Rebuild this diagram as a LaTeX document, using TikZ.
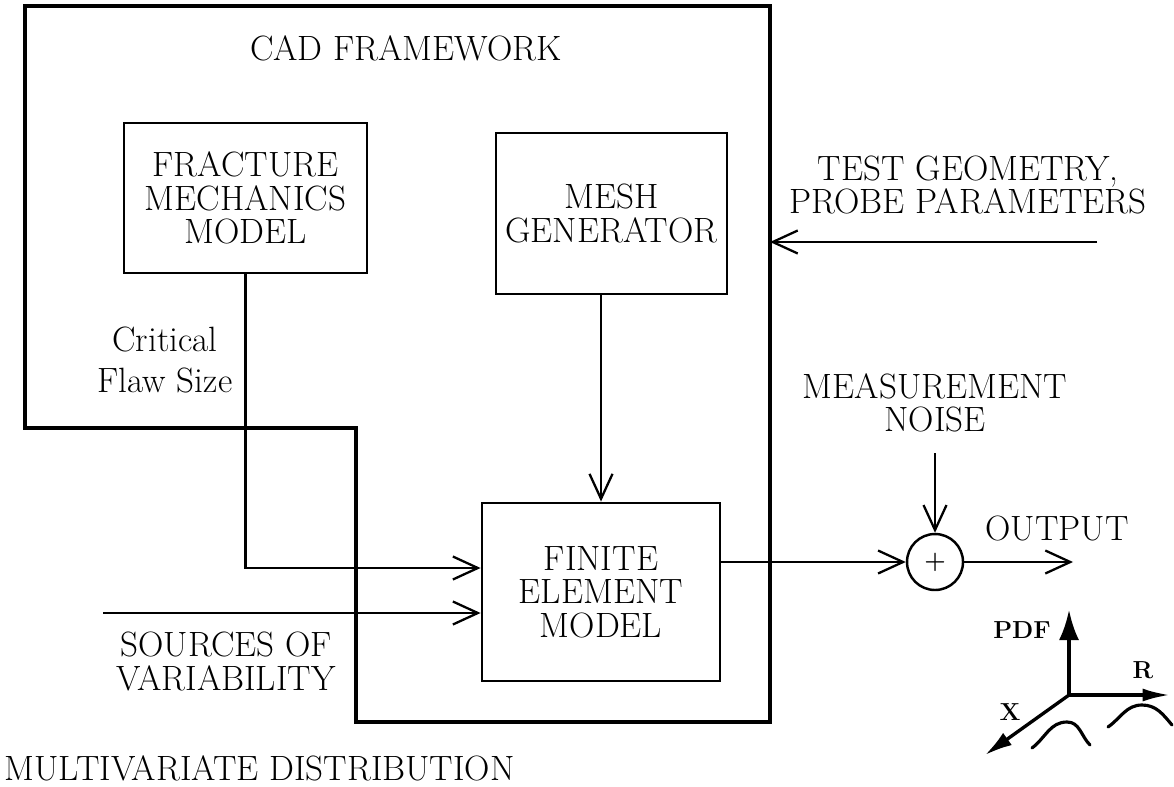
\documentclass[tikz,border=0pt]{standalone}
\usepackage{tikz}
\usetikzlibrary{positioning}
\usetikzlibrary{arrows.meta}
\tikzstyle{cadframe} = [line width=2.4pt, line join=miter]
\tikzstyle{block} = [rectangle, draw=black, line width=1.6pt, text centered, align=center]
\tikzstyle{txt} = [align=center]
\tikzstyle{arrow} = [line width=1.3pt, -{Straight Barb[length=0.5cm,width=0.46cm,line width=1.3pt]}]
\tikzstyle{pdfaxis} = [line width=1.9pt]
\tikzstyle{axlabel} = [font=\fontsize{14}{14}\selectfont\bfseries]
\tikzstyle{hump} = [line width=1.8pt, line cap=round]

\begin{document}
\begin{tikzpicture}[font=\fontsize{20}{19}\selectfont]
    \useasboundingbox (0,0) rectangle (23.48,15.72);

    % CAD framework outline
    \coordinate (fr-nw) at (0.5,15.6);
    \coordinate (fr-ne) at (15.4,15.6);
    \coordinate (fr-se) at (15.4,1.28);
    \coordinate (fr-s) at (7.12,1.28);
    \coordinate (fr-step) at (7.12,7.16);
    \coordinate (fr-sw) at (0.5,7.16);
    \draw [cadframe] (fr-nw) -- (fr-ne) -- (fr-se) -- (fr-s) -- (fr-step) -- (fr-sw) -- cycle;
    \node (cad) at (8.12,14.76) {CAD FRAMEWORK};

    % blocks
    \node (fracture) [block, minimum width=4.86cm, minimum height=3cm] at (4.91,11.76) {FRACTURE\\MECHANICS\\MODEL};
    \node (mesh) [block, minimum width=4.62cm, minimum height=3.22cm] at (12.23,11.45) {MESH\\GENERATOR};
    \node (fem) [block, minimum width=4.76cm, minimum height=3.56cm] at (12.02,3.88) {FINITE\\ELEMENT\\MODEL};
    \node (sum) [circle, draw=black, line width=1.4pt, minimum size=1.12cm, inner sep=0pt, font=\fontsize{14}{14}\selectfont\bfseries] at (18.7,4.48) {+};

    % labels
    \node (flaw) [txt, font=\fontsize{20}{23}\selectfont] at (3.3,8.52) {Critical\\Flaw Size};
    \node (sources) [txt] at (4.52,2.49) {SOURCES OF\\VARIABILITY};
    \node (testgeo) [txt] at (19.36,12.02) {TEST GEOMETRY,\\PROBE PARAMETERS};
    \node (noise) [txt, above=1.89cm of sum] {MEASUREMENT\\NOISE};
    \node (output) at (21.14,5.16) {OUTPUT};
    \node (multi) [anchor=west, inner sep=0pt] at (0.08,0.36) {MULTIVARIATE DISTRIBUTION};

    % free ends
    \coordinate (testin) at (21.94,10.88);
    \coordinate (srcin) at (2.06,3.46);
    \coordinate (out) at (21.46,4.48);

    \draw [arrow] (fracture.south) |- ([yshift=0.48cm]fem.west);
    \draw [arrow] (srcin) -- (srcin -| fem.west);
    \draw [arrow] (mesh.south -| fem.north) -- (fem.north);
    \draw [arrow] (testin) -- (testin -| fr-ne);
    \draw [arrow] (sum.west -| fem.east) -- (sum);
    \draw [arrow, shorten <=0.3cm] (noise.south -| sum.north) -- (sum);
    \draw [arrow] (sum) -- (out);

    % PDF axes
    \coordinate (org) at (21.38,1.82);
    \coordinate (pdftip) at (21.38,3.52);
    \coordinate (rtip) at (23.4,1.82);
    \coordinate (xtip) at (19.7,0.62);
    \draw [pdfaxis, -{Latex[length=0.6cm,width=0.4cm]}] (org) -- (pdftip);
    \draw [pdfaxis, -{Latex[length=0.55cm,width=0.26cm]}] (org) -- (rtip);
    \draw [pdfaxis, -{Latex[length=0.55cm,width=0.3cm]}] (org) -- (xtip);
    \node (pdf) [axlabel] at (20.44,3.12) {PDF};
    \node (r) [axlabel] at (22.86,2.32) {R};
    \node (x) [axlabel] at (20.2,1.48) {X};
    \draw [hump] (20.64,0.76) to[out=37,in=180] (21.34,1.28) to[out=0,in=135] (21.8,0.82);
    \draw [hump] (22.16,1.18) to[out=35,in=180] (22.84,1.62) to[out=0,in=130] (23.44,1.22);
\end{tikzpicture}
\end{document}
